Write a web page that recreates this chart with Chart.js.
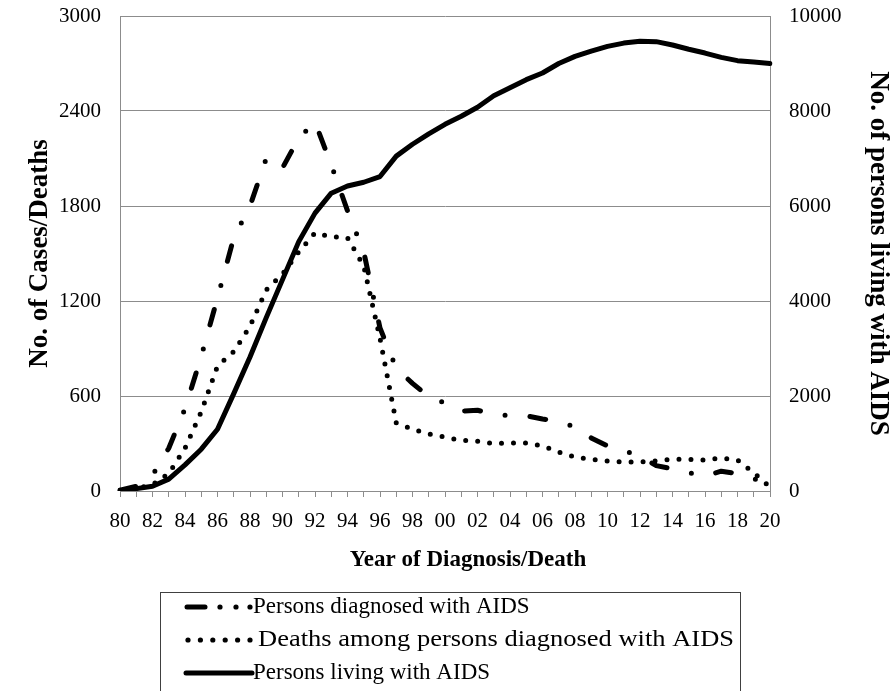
<!DOCTYPE html>
<html>
<head>
<meta charset="utf-8">
<script src="https://cdn.jsdelivr.net/npm/chart.js@4.4.1/dist/chart.umd.min.js"></script>
<style>
html, body { margin: 0; padding: 0; background: #fff; }
</style>
</head>
<body>
<canvas id="myChart" width="893" height="691"></canvas>
<script>
// year labels 1980..2020 (two digits)
const years = ['80','81','82','83','84','85','86','87','88','89',
               '90','91','92','93','94','95','96','97','98','99',
               '00','01','02','03','04','05','06','07','08','09',
               '10','11','12','13','14','15','16','17','18','19','20']

// left axis: cases / deaths
const diagnosed = [5, 30, 100, 270, 520, 850, 1220, 1600, 1800, 2100,
                   2040, 2230, 2330, 2060, 1770, 1510, 1030, 775, 680, 595,
                   555, 505, 510, 485, 475, 475, 455, 440, 405, 335,
                   285, 255, 220, 160, 140, 115, 95, 125, 110, 80, 25]

const deaths = [5, 15, 40, 110, 270, 500, 790, 880, 1040, 1270,
                1370, 1510, 1630, 1605, 1600, 1420, 965, 430, 390, 360,
                340, 320, 315, 300, 303, 303, 285, 245, 215, 200,
                190, 183, 183, 190, 200, 200, 195, 208, 195, 115, 25]

// right axis: persons living with AIDS
const living = [0, 50, 100, 250, 550, 880, 1300, 2050, 2820, 3650,
                4450, 5250, 5850, 6270, 6420, 6500, 6620, 7050, 7300, 7520,
                7720, 7890, 8080, 8320, 8490, 8660, 8800, 9000, 9150, 9260,
                9360, 9430, 9470, 9460, 9390, 9300, 9220, 9130, 9060, 9030, 9000]

const legendLabels = ['Persons diagnosed with AIDS',
                      'Deaths among persons diagnosed with AIDS',
                      'Persons living with AIDS']
const xTitle = 'Year of Diagnosis/Death'

const serif = '"Liberation Serif", "Times New Roman", serif'
const gridGray = '#8c8c8c'

Chart.defaults.font.family = serif
Chart.defaults.color = '#000'

// x title (sits a bit right of centre in the original) and the boxed legend
const legendBox = {
    id: 'legendBox',
    afterDraw(chart) {
        const ctx = chart.ctx
        ctx.save()
        ctx.fillStyle = '#000'
        ctx.font = 'bold 23px ' + serif
        ctx.textAlign = 'center'
        ctx.textBaseline = 'middle'
        ctx.fillText(xTitle, 468, 560)

        ctx.strokeStyle = '#404040'
        ctx.lineWidth = 1
        ctx.strokeRect(160.5, 592.5, 580, 130)

        ctx.strokeStyle = '#000'
        ctx.lineCap = 'round'
        ctx.lineWidth = 5

        // row 1: long dash, dot, dot
        let y = 607
        ctx.beginPath()
        ctx.moveTo(187, y); ctx.lineTo(205, y)
        ctx.stroke()
        ;[220, 236, 250].forEach(function (x) {
            ctx.beginPath(); ctx.arc(x, y, 2.6, 0, Math.PI * 2); ctx.fill()
        })

        // row 2: dots
        y = 640
        for (let k = 0; k < 6; k++) {
            ctx.beginPath(); ctx.arc(188 + k * 12.4, y, 2.6, 0, Math.PI * 2); ctx.fill()
        }

        // row 3: solid
        y = 673
        ctx.beginPath()
        ctx.moveTo(186, y); ctx.lineTo(252, y)
        ctx.stroke()

        ctx.font = '23px ' + serif
        ctx.textAlign = 'left'
        ctx.fillText(legendLabels[0], 253, 607)
        ctx.fillText(legendLabels[2], 253, 673)
        // second entry is drawn wider in the original, runs up to the box edge
        const w = ctx.measureText(legendLabels[1]).width
        ctx.translate(258, 640)
        ctx.scale(476 / w, 1)
        ctx.fillText(legendLabels[1], 0, 0)
        ctx.restore()
    }
}

const plainNum = function (v) { return String(v) }

const ctx = document.getElementById('myChart')

new Chart(ctx, {
    type: 'line',
    data: {
        labels: years,
        datasets: [
            {
                label: legendLabels[0],
                data: diagnosed,
                yAxisID: 'y',
                borderColor: '#000',
                borderWidth: 5,
                borderDash: [16, 25, 0, 25],
                borderCapStyle: 'round',
                borderJoinStyle: 'round',
                pointRadius: 0,
                tension: 0
            },
            {
                label: legendLabels[1],
                data: deaths,
                yAxisID: 'y',
                borderColor: '#000',
                borderWidth: 5,
                borderDash: [0, 12],
                borderCapStyle: 'round',
                borderJoinStyle: 'round',
                pointRadius: 0,
                tension: 0
            },
            {
                label: legendLabels[2],
                data: living,
                yAxisID: 'y1',
                borderColor: '#000',
                borderWidth: 5,
                borderCapStyle: 'round',
                borderJoinStyle: 'round',
                pointRadius: 0,
                tension: 0
            }
        ]
    },
    options: {
        responsive: false,
        animation: false,
        layout: { padding: { top: 16, bottom: 119, left: 0, right: 0 } },
        plugins: {
            legend: { display: false },
            tooltip: { enabled: false }
        },
        scales: {
            x: {
                ticks: {
                    autoSkip: false,
                    maxRotation: 0,
                    padding: 12,
                    font: { size: 21 },
                    callback: function (val, i) { return i % 2 === 0 ? years[i] : '' }
                },
                grid: { drawOnChartArea: false, drawTicks: true, tickLength: 6, color: gridGray },
                border: { display: true, color: gridGray },
                title: { display: false },
                afterFit: function (s) { s.height = 81 }
            },
            y: {
                position: 'left',
                min: 0,
                max: 3000,
                ticks: { stepSize: 600, padding: 3, font: { size: 21 }, callback: plainNum },
                // invisible tick marks just push the labels away from the axis
                grid: { color: gridGray, drawTicks: true, tickLength: 16, tickColor: 'rgba(0,0,0,0)' },
                border: { display: true, color: gridGray },
                title: {
                    display: true,
                    text: 'No. of Cases/Deaths',
                    font: { size: 27, weight: 'bold' },
                    padding: { top: 24, bottom: 0 }
                },
                afterFit: function (s) { s.width = 120 }
            },
            y1: {
                position: 'right',
                min: 0,
                max: 10000,
                ticks: { stepSize: 2000, padding: 3, font: { size: 21 }, callback: plainNum },
                grid: { drawOnChartArea: false, drawTicks: true, tickLength: 16, tickColor: 'rgba(0,0,0,0)' },
                border: { display: true, color: gridGray },
                title: {
                    display: true,
                    text: 'No. of persons living with AIDS',
                    font: { size: 27, weight: 'bold' },
                    padding: { top: -1, bottom: 0 }
                },
                afterFit: function (s) { s.width = 123 }
            }
        }
    },
    plugins: [legendBox]
})
</script>
</body>
</html>
